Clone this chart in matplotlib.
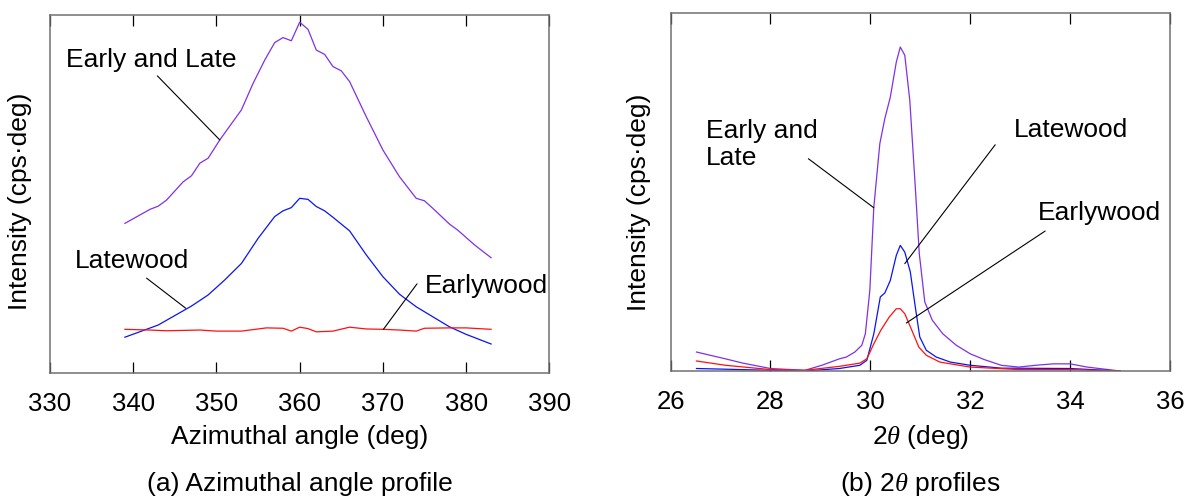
import matplotlib
matplotlib.use("Agg")
import matplotlib.pyplot as plt

plt.rcParams['font.family'] = ['Liberation Sans', 'DejaVu Sans']
plt.rcParams['mathtext.fontset'] = 'custom'
plt.rcParams['mathtext.rm'] = 'Liberation Sans'
plt.rcParams['mathtext.it'] = 'Liberation Serif:italic'

# (a) azimuthal angle profile, intensity in arbitrary units
az_both_x = [339, 342, 343, 344, 346, 347, 348, 349, 350.4, 353, 354.4, 355.8, 357, 358, 359, 360,
             361, 362, 363, 364, 365, 366, 368, 370, 372, 374, 375, 376, 378, 379, 381, 383]
az_both_y = [41.8, 45.7, 46.6, 48.3, 53.4, 55.1, 58.6, 60.0, 65.1, 73.5, 80.9, 87.4, 92.3, 93.7, 92.8, 98.0,
             96.0, 90.2, 89.0, 85.6, 84.4, 81.4, 71.6, 62.3, 54.8, 48.8, 48.1, 46.0, 41.6, 39.9, 35.8, 32.2]

az_late_x = [339, 343, 347, 349, 351, 353, 355, 357, 358, 359, 360, 361, 362, 363, 364, 366,
             368, 370, 372, 374, 376, 378, 380, 383]
az_late_y = [10.0, 13.4, 18.7, 21.8, 26.0, 30.6, 37.6, 43.7, 45.3, 46.2, 48.8, 48.5, 46.5, 45.3, 43.5, 39.7,
             33.0, 26.9, 22.0, 18.5, 15.7, 12.9, 10.8, 8.1]

az_early_x = [339, 342, 344, 348, 350, 353, 356, 358, 359, 360, 361, 362, 364, 366, 368, 370,
              372, 374, 375, 378, 380, 383]
az_early_y = [12.2, 12.0, 11.8, 12.0, 11.7, 11.7, 12.6, 12.5, 11.7, 12.8, 12.4, 11.5, 11.7, 12.8, 12.3, 12.2,
              12.0, 11.7, 12.5, 12.6, 12.6, 12.2]

# (b) 2theta profiles
tt_both_x = [26.52, 27.10, 27.45, 28.0, 28.69, 29.03, 29.38, 29.52, 29.69, 29.83, 29.90, 29.99, 30.07,
             30.19, 30.29, 30.40, 30.52, 30.60, 30.69, 30.79, 30.90, 30.98, 31.09, 31.24, 31.45, 31.72,
             32.0, 32.28, 32.62, 32.97, 33.31, 33.66, 34.0, 34.34, 35.0]
tt_both_y = [5.3, 3.4, 2.2, 0.7, 0.2, 1.6, 3.4, 3.9, 5.3, 7.2, 10.4, 22.5, 45.8,
             63.5, 70.5, 76.5, 86.3, 90.5, 88.2, 75.6, 51.4, 32.8, 19.3, 14.2, 10.4, 7.2,
             4.8, 3.2, 1.6, 1.1, 1.6, 2.0, 2.0, 1.1, 0.0]

tt_late_x = [26.52, 28.0, 28.69, 29.38, 29.79, 29.93, 30.07, 30.20, 30.29, 30.40, 30.52, 30.60, 30.69,
             30.80, 30.90, 30.99, 31.12, 31.32, 31.60, 32.0, 32.62, 34.0, 35.0]
tt_late_y = [0.7, 0.2, 0.0, 0.7, 1.6, 3.0, 10.4, 20.7, 21.8, 25.3, 32.3, 35.1, 33.2,
             27.7, 17.9, 9.5, 5.8, 3.9, 2.5, 1.6, 0.8, 0.7, 0.0]

tt_early_x = [26.52, 27.10, 28.0, 28.69, 29.38, 29.79, 29.93, 30.07, 30.21, 30.38, 30.52, 30.60, 30.69,
              30.83, 30.97, 31.12, 31.39, 32.0, 32.97, 34.0, 35.0]
tt_early_y = [2.8, 1.6, 0.4, 0.2, 1.3, 2.2, 3.4, 7.6, 11.4, 15.1, 17.4, 17.4, 16.0,
              11.4, 6.7, 4.4, 2.5, 1.1, 0.4, 0.4, 0.0]

c_both = '#8030e6'
c_late = '#0a14f0'
c_early = '#ff1010'

# label text, text position, leader line start, leader line end
labels_a = [("Early and Late", 331.9, 85.6, (342.9, 83.0), (350.4, 65.1)),
            ("Latewood", 333.0, 29.3, (341.6, 26.5), (346.3, 18.1)),
            ("Earlywood", 375.1, 22.4, (374.1, 24.9), (370.06, 12.2))]
labels_b = [("Early and\nLate", 26.71, 57.6, (28.76, 59.3), (30.07, 45.6)),
            ("Latewood", 32.88, 65.4, (32.50, 63.2), (30.69, 30.0)),
            ("Earlywood", 33.36, 42.1, (33.50, 39.1), (30.72, 13.4))]

fig = plt.figure(figsize=(11.88, 4.97), dpi=100)
ax1 = fig.add_axes([0.0421, 0.2495, 0.4203, 0.7203])
ax2 = fig.add_axes([0.5644, 0.2535, 0.4205, 0.7203])

ax1.plot(az_both_x, az_both_y, color=c_both, lw=0.9)
ax1.plot(az_late_x, az_late_y, color=c_late, lw=0.9)
ax1.plot(az_early_x, az_early_y, color=c_early, lw=0.9)
ax1.set_xlim(330, 390)
ax1.set_ylim(0, 100)
ax1.set_xticks([330, 340, 350, 360, 370, 380, 390])

ax2.plot(tt_both_x, tt_both_y, color=c_both, lw=0.9)
ax2.plot(tt_late_x, tt_late_y, color=c_late, lw=0.9)
ax2.plot(tt_early_x, tt_early_y, color=c_early, lw=0.9)
ax2.set_xlim(26, 36)
ax2.set_ylim(0, 100)
ax2.set_xticks([26, 28, 30, 32, 34, 36])

for ax, labs in ((ax1, labels_a), (ax2, labels_b)):
    for txt, tx, ty, p0, p1 in labs:
        ax.text(tx, ty, txt, fontsize=19, ha='left', va='baseline', linespacing=1.15)
        ax.annotate('', xy=p1, xytext=p0,
                    arrowprops=dict(arrowstyle='-', color='black', lw=0.8, shrinkA=0, shrinkB=0))
    ax.set_yticks([])
    for sp in ax.spines.values():
        sp.set_color('#707070')
        sp.set_linewidth(1.1)
    ax.tick_params(axis='x', direction='in', top=True, length=8, width=0.9,
                   color='black', labelsize=18.5, pad=14)
    ax.set_ylabel("Intensity (cps\u00b7deg)", fontsize=19)

ax1.yaxis.set_label_coords(-0.037, 0.48)
ax2.yaxis.set_label_coords(-0.039, 0.47)
ax1.set_xlabel("Azimuthal angle (deg)", fontsize=19, labelpad=6)
ax2.set_xlabel(r"2$\theta$ (deg)", fontsize=19, labelpad=6)

fig.text(0.2523, 1 - 491 / 497, "(a) Azimuthal angle profile", fontsize=19, ha='center', va='baseline')
fig.text(0.7747, 1 - 491 / 497, r"(b) 2$\theta$ profiles", fontsize=19, ha='center', va='baseline')

fig.savefig("out.png", dpi=100)
